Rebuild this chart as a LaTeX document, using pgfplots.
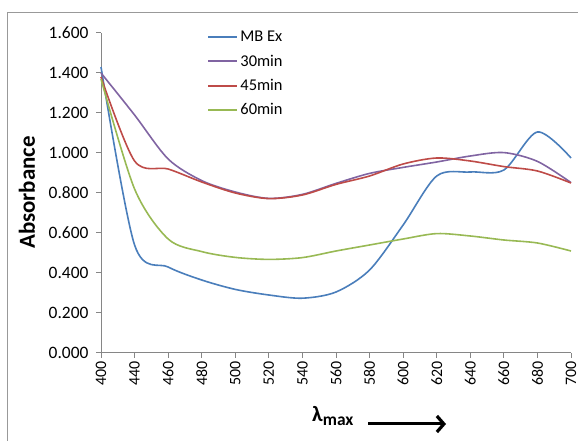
\documentclass[border=0pt]{standalone}
\usepackage{pgfplots}
\pgfplotsset{compat=1.18}
\usepackage{fontspec}
\setmainfont{Carlito}
\usetikzlibrary{arrows.meta}
\definecolor{mbblue}{HTML}{4A7EBB}
\definecolor{c30}{HTML}{8064A2}
\definecolor{c45}{HTML}{BE4B48}
\definecolor{c60}{HTML}{98B954}
\definecolor{axgray}{HTML}{868686}

\pgfplotstableread{
x y
0 1.43
1 0.54
2 0.43
3 0.365
4 0.318
5 0.29
6 0.274
7 0.305
8 0.415
9 0.64
10 0.885
11 0.905
12 0.915
13 1.105
14 0.975
}\mbex
\pgfplotstableread{
x y
0 1.40
1 1.19
2 0.97
3 0.862
4 0.805
5 0.773
6 0.793
7 0.848
8 0.898
9 0.928
10 0.955
11 0.985
12 1.002
13 0.958
14 0.852
}\thirty
\pgfplotstableread{
x y
0 1.38
1 0.96
2 0.92
3 0.855
4 0.80
5 0.772
6 0.79
7 0.843
8 0.885
9 0.945
10 0.975
11 0.96
12 0.932
13 0.91
14 0.85
}\fortyfive
\pgfplotstableread{
x y
0 1.37
1 0.82
2 0.57
3 0.507
4 0.478
5 0.468
6 0.477
7 0.51
8 0.54
9 0.57
10 0.597
11 0.585
12 0.565
13 0.55
14 0.51
}\sixty

\begin{document}
\begin{tikzpicture}[x=1bp,y=1bp]
\useasboundingbox (0,0) rectangle (578,441);
\draw[color=black!40, line width=1bp] (7,0) -- (7,428) -- (578,428);
\begin{axis}[
  at={(101bp,88bp)}, anchor=south west,
  scale only axis, width=470bp, height=320bp,
  xmin=0, xmax=14, ymin=0, ymax=1.6,
  axis x line*=bottom, axis y line*=left,
  axis line style={axgray, line width=1bp},
  xtick={0,...,14},
  xticklabels={400,440,460,480,500,520,540,560,580,600,620,640,660,680,700},
  ytick={0,0.2,0.4,0.6,0.8,1.0,1.2,1.4,1.6},
  y tick label style={font=\fontsize{17.5}{19}\selectfont, xshift=-4bp,
    /pgf/number format/fixed, /pgf/number format/fixed zerofill,
    /pgf/number format/precision=3, /pgf/number format/assume math mode=true},
  x tick label style={rotate=90, anchor=east, font=\fontsize{16}{18}\selectfont},
  tick label style={black},
  tick style={axgray, line width=1bp},
  tick align=outside,
  major tick length=5bp,
  legend style={at={(axis description cs:0.226,1.012)}, anchor=north west, draw=none, fill=none,
    font=\fontsize{16.5}{18}\selectfont, row sep=7.5bp, inner sep=0pt,
    /tikz/every even column/.append style={column sep=3bp}},
  legend cell align=left,
  legend image code/.code={\draw[#1, line width=2bp] (0bp,0bp) -- (29bp,0bp);},
  every axis plot/.append style={smooth, tension=0.5, line width=1.6bp},
  clip=false,
]
\addplot[mbblue] table {\mbex};
\addlegendentry{MB Ex}
\addplot[c30] table {\thirty};
\addlegendentry{30min}
\addplot[c45] table {\fortyfive};
\addlegendentry{45min}
\addplot[c60] table {\sixty};
\addlegendentry{60min}
\end{axis}
\node[rotate=90, font=\fontsize{23}{25}\selectfont\bfseries] at (27,248.5) {Absorbance};
\node[anchor=base west, inner sep=0pt, font=\fontsize{22}{24}\selectfont\bfseries] at (312,19.5) {λ\raisebox{-0.4ex}{\fontsize{17.5}{19}\selectfont max}};
\draw[line width=3bp, -{Straight Barb[length=7bp, width=16bp, line width=3.2bp]}] (368,17) -- (446,17);
\end{tikzpicture}
\end{document}
